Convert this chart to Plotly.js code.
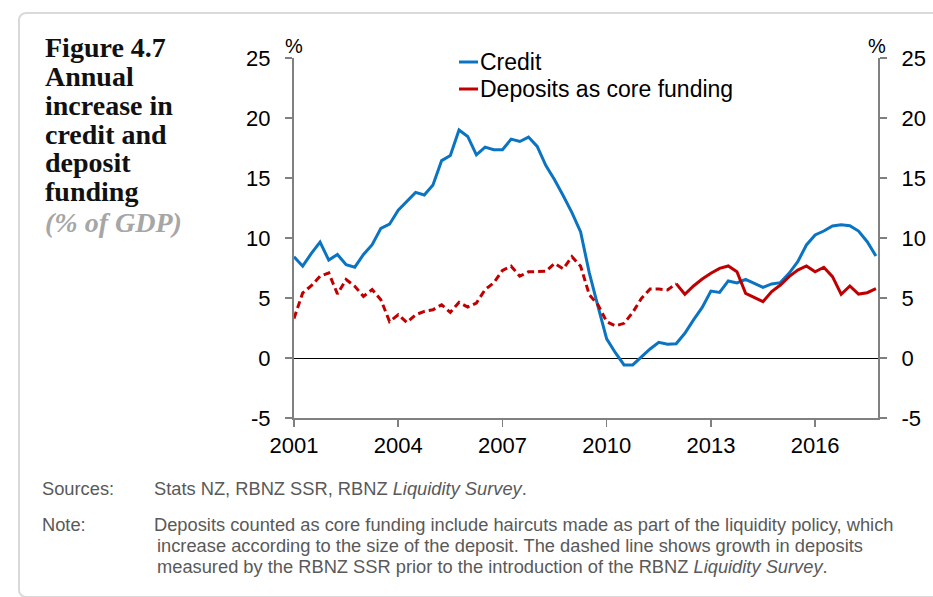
<!DOCTYPE html>
<html>
<head>
<meta charset="utf-8">
<script src="https://cdn.plot.ly/plotly-3.0.1.min.js"></script>
<style>
  html, body { margin: 0; padding: 0; background: #ffffff; overflow: hidden; }
  #frame { position: absolute; left: 18px; top: 12px; width: 960px; height: 582px;
           border: 2px solid #d9d9d9; border-radius: 8px; }
  #chart { position: absolute; left: 0; top: 0; width: 933px; height: 597px; }
</style>
</head>
<body>
<div id="frame"></div>
<div id="chart"></div>
<script>
// Quarterly observations, 2001 Q1 .. 2017 Q4 (decimal years)
const quarters = [
  2001.00, 2001.25, 2001.50, 2001.75, 2002.00, 2002.25, 2002.50, 2002.75,
  2003.00, 2003.25, 2003.50, 2003.75, 2004.00, 2004.25, 2004.50, 2004.75,
  2005.00, 2005.25, 2005.50, 2005.75, 2006.00, 2006.25, 2006.50, 2006.75,
  2007.00, 2007.25, 2007.50, 2007.75, 2008.00, 2008.25, 2008.50, 2008.75,
  2009.00, 2009.25, 2009.50, 2009.75, 2010.00, 2010.25, 2010.50, 2010.75,
  2011.00, 2011.25, 2011.50, 2011.75, 2012.00, 2012.25, 2012.50, 2012.75,
  2013.00, 2013.25, 2013.50, 2013.75, 2014.00, 2014.25, 2014.50, 2014.75,
  2015.00, 2015.25, 2015.50, 2015.75, 2016.00, 2016.25, 2016.50, 2016.75,
  2017.00, 2017.25, 2017.50, 2017.75
];

// Credit growth (% of GDP), one value per quarter
const credit = [
  8.44, 7.65, 8.72, 9.66, 8.16, 8.63, 7.77, 7.57,
  8.63, 9.44, 10.81, 11.15, 12.32, 13.02, 13.80, 13.58,
  14.41, 16.45, 16.87, 19.00, 18.46, 16.93, 17.57, 17.35,
  17.35, 18.24, 18.04, 18.41, 17.63, 16.03, 14.86, 13.52,
  12.12, 10.50, 7.09, 4.30, 1.60, 0.44, -0.58, -0.58,
  0.11, 0.75, 1.30, 1.14, 1.19, 2.06, 3.17, 4.22,
  5.58, 5.47, 6.42, 6.25, 6.56, 6.22, 5.89, 6.17,
  6.28, 7.06, 8.03, 9.42, 10.25, 10.58, 11.00, 11.11,
  11.03, 10.58, 9.69, 8.50
];

// Deposits measured by RBNZ SSR (dashed), 2001 Q1 .. 2012 Q1
const depositsSSR = [
  3.30, 5.42, 6.03, 6.82, 7.09, 5.34, 6.54, 5.98,
  5.14, 5.70, 4.86, 3.04, 3.60, 2.96, 3.60, 3.88,
  4.02, 4.44, 3.80, 4.64, 4.25, 4.58, 5.70, 6.26,
  7.29, 7.65, 6.82, 7.18, 7.20, 7.23, 7.88, 7.43,
  8.44, 7.65, 5.27, 4.43, 3.03, 2.67, 2.89, 3.80,
  4.97, 5.75, 5.75, 5.67, 6.20
];
const quartersSSR = quarters.slice(0, 45);

// Deposits as core funding, Liquidity Survey (solid), 2012 Q1 .. 2017 Q4
const depositsCore = [
  6.20, 5.31, 6.00, 6.58, 7.06, 7.47, 7.67, 7.19,
  5.39, 5.06, 4.69, 5.53, 6.08, 6.78, 7.33, 7.67,
  7.19, 7.56, 6.78, 5.31, 6.00, 5.33, 5.44, 5.78
];
const quartersCore = quarters.slice(44);

const seriesNames = ['Credit', 'Deposits as core funding'];
const xTicks = [2001, 2004, 2007, 2010, 2013, 2016];
const yTicks = [-5, 0, 5, 10, 15, 20, 25];

const BLUE = '#0a74c2';
const RED = '#c00000';

// pixel -> paper helpers (layout only)
const PL = 294, PR = 878, PT = 58, PB = 418;
const px = x => (x - PL) / (PR - PL);
const py = y => (PB - y) / (PB - PT);

const traces = [
  { x: quarters, y: credit, type: 'scatter', mode: 'lines', name: seriesNames[0],
    line: { color: BLUE, width: 3 } },
  { x: quartersSSR, y: depositsSSR, type: 'scatter', mode: 'lines', name: 'Deposits (RBNZ SSR)',
    line: { color: RED, width: 3, dash: '7px,4px' } },
  { x: quartersCore, y: depositsCore, type: 'scatter', mode: 'lines', name: seriesNames[1],
    yaxis: 'y2', line: { color: RED, width: 3 } }
];

const titleFont = { family: 'Liberation Serif', size: 28, color: '#111111' };
const titleLines = ['Figure 4.7', 'Annual', 'increase in', 'credit and', 'deposit', 'funding'];
const titleY = [47, 76, 105, 134, 162, 191];
const annotations = titleLines.map((t, i) => ({
  text: '<b>' + t + '</b>', xref: 'paper', yref: 'paper', x: px(43), y: py(titleY[i]),
  xanchor: 'left', yanchor: 'middle', showarrow: false, font: titleFont
}));
annotations.push({
  text: '<b><i>(% of GDP)</i></b>', xref: 'paper', yref: 'paper', x: px(43), y: py(222),
  xanchor: 'left', yanchor: 'middle', showarrow: false,
  font: { family: 'Liberation Serif', size: 28, color: '#a6a6a6' }
});
// % unit labels
annotations.push({ text: '%', xref: 'paper', yref: 'paper', x: px(294), y: py(46),
  xanchor: 'center', yanchor: 'middle', showarrow: false,
  font: { family: 'Liberation Sans', size: 20, color: '#000' } });
annotations.push({ text: '%', xref: 'paper', yref: 'paper', x: px(877), y: py(46),
  xanchor: 'center', yanchor: 'middle', showarrow: false,
  font: { family: 'Liberation Sans', size: 20, color: '#000' } });

// Legend (text + short key lines)
const legendRows = [{ y: 62, color: BLUE }, { y: 89, color: RED }];
const shapes = [];
legendRows.forEach((r, i) => {
  annotations.push({ text: seriesNames[i], xref: 'paper', yref: 'paper', x: px(478), y: py(r.y),
    xanchor: 'left', yanchor: 'middle', showarrow: false,
    font: { family: 'Liberation Sans', size: 23, color: '#000' } });
  shapes.push({ type: 'line', xref: 'paper', yref: 'paper', x0: px(459), x1: px(478),
    y0: py(r.y), y1: py(r.y), line: { color: r.color, width: 3 } });
});

// Sources and note
const noteFont = { family: 'Liberation Sans', size: 18.3, color: '#595959' };
const noteRows = [
  { x: 40, y: 488, t: 'Sources:' },
  { x: 152, y: 488, t: 'Stats NZ, RBNZ SSR, RBNZ <i>Liquidity Survey</i>.' },
  { x: 40, y: 524, t: 'Note:' },
  { x: 152, y: 524, t: 'Deposits counted as core funding include haircuts made as part of the liquidity policy, which' },
  { x: 155, y: 545, t: 'increase according to the size of the deposit. The dashed line shows growth in deposits' },
  { x: 155, y: 566, t: 'measured by the RBNZ SSR prior to the introduction of the RBNZ <i>Liquidity Survey</i>.' }
];
noteRows.forEach(r => annotations.push({
  text: r.t, xref: 'paper', yref: 'paper', x: px(r.x), y: py(r.y),
  xanchor: 'left', yanchor: 'middle', showarrow: false, font: noteFont
}));

const axisFont = { family: 'Liberation Sans', size: 22, color: '#000' };

const layout = {
  width: 933, height: 597,
  margin: { l: PL, r: 933 - PR, t: PT, b: 597 - PB, pad: 0 },
  paper_bgcolor: 'rgba(0,0,0,0)', plot_bgcolor: 'rgba(0,0,0,0)',
  showlegend: false,
  xaxis: {
    range: [2001, 2017.81], tickmode: 'array', tickvals: xTicks, ticktext: xTicks.map(String),
    showgrid: false, zeroline: false, showline: true, linecolor: '#808080', linewidth: 2,
    ticks: 'outside', ticklen: 7, tickwidth: 1.5, tickcolor: '#808080', tickfont: axisFont,
    fixedrange: true
  },
  yaxis: {
    range: [-5, 25], tickmode: 'array', tickvals: yTicks, ticktext: yTicks.map(String),
    showgrid: false, zeroline: true, zerolinecolor: '#000', zerolinewidth: 1,
    showline: true, linecolor: '#808080', linewidth: 2,
    ticks: 'outside', ticklen: 7, tickwidth: 1.5, tickcolor: '#808080', tickfont: axisFont,
    ticklabelstandoff: 10, fixedrange: true
  },
  yaxis2: {
    overlaying: 'y', side: 'right', anchor: 'x',
    range: [-5, 25], tickmode: 'array', tickvals: yTicks, ticktext: yTicks.map(String),
    showgrid: false, zeroline: false, showline: true, linecolor: '#808080', linewidth: 2,
    ticks: 'outside', ticklen: 7, tickwidth: 1.5, tickcolor: '#808080', tickfont: axisFont,
    ticklabelstandoff: 10, fixedrange: true
  },
  annotations: annotations,
  shapes: shapes
};

Plotly.newPlot('chart', traces, layout, { displayModeBar: false, staticPlot: true });
</script>
</body>
</html>
